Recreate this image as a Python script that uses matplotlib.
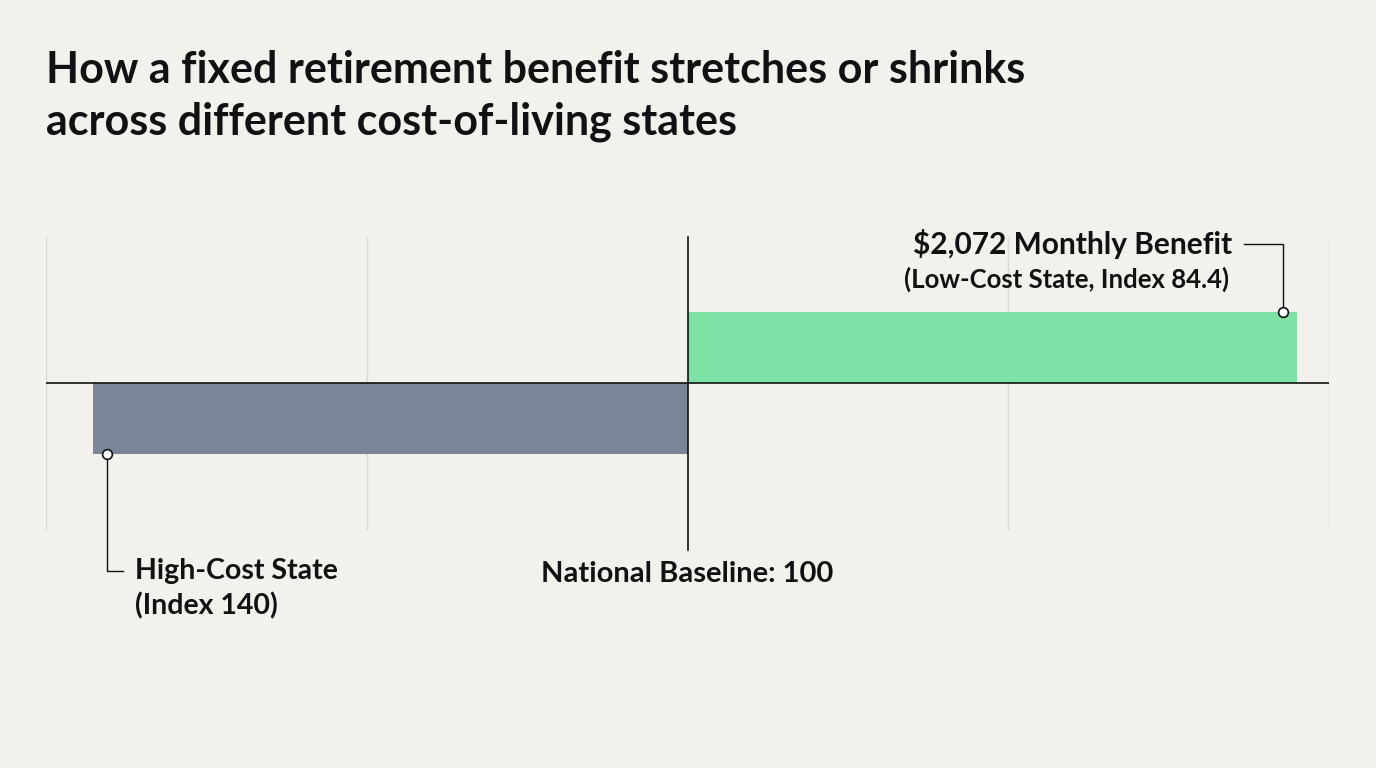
import matplotlib.pyplot as plt
import numpy as np

# data
states = ["High-Cost State", "Low-Cost State"]
cost_index = [140, 84.4]
shift_pct = [-27.8, 28.5]          # relative purchasing power vs. baseline
benefit_label = "$2,072 Monthly Benefit"
baseline = 100
xticks = [-30, -15, 0, 15, 30]

BG = "#f2f1ec"
GREEN = "#7de2a6"
SLATE = "#7a8598"
INK = "#111111"

plt.rcParams['font.family'] = ['Lato', 'DejaVu Sans']

fig = plt.figure(figsize=(13.76, 7.68), dpi=100)
fig.patch.set_facecolor(BG)
W, H = 1376, 768
ax = fig.add_axes([46 / W, (768 - 530) / H, 1283 / W, 293 / H])
ax.set_facecolor(BG)

ax.set_xlim(xticks[0], xticks[-1])
ax.set_ylim(-147 / 71, 146 / 71)
px_x = (xticks[-1] - xticks[0]) / 1283.0   # data units per pixel
px_y = 1 / 71.0

for t in xticks:
    if t != 0:
        ax.axvline(t, color="#d8d8d4", lw=1, zorder=0)

ypos = [-0.5, 0.5]
colors = [SLATE, GREEN]
ax.barh(ypos, shift_pct, height=1.0, color=colors, zorder=2)

ax.axhline(0, color=INK, lw=1.2, zorder=3)
ax.plot([0, 0], [146 / 71, -167 * px_y], color=INK, lw=1.2, zorder=3, clip_on=False)
ax.text(0, -191 * px_y, f"National Baseline: {baseline}", ha="center", va="center",
        fontsize=21, fontweight="bold", color=INK)

for sp in ax.spines.values():
    sp.set_visible(False)
ax.set_xticks([])
ax.set_yticks([])

# low-cost annotation
v = shift_pct[1]
cx = v - 14 * px_x
top = 1 + 68 * px_y
ax.plot([cx, cx, v - 53 * px_x], [1, top, top], color=INK, lw=1, zorder=4, clip_on=False)
ax.plot(cx, 1, "o", ms=7, mfc="white", mec=INK, mew=1.2, zorder=5, clip_on=False)
ax.text(v - 65 * px_x, top, benefit_label, ha="right", va="center",
        fontsize=21.5, fontweight="bold", color=INK)
ax.text(v - 68 * px_x, 1 + 33 * px_y, f"({states[1]}, Index {cost_index[1]})",
        ha="right", va="center", fontsize=18.5, fontweight="bold", color=INK)

# high-cost annotation
v = shift_pct[0]
cx = v + 14 * px_x
bot = -1 - 117 * px_y
ax.plot([cx, cx, v + 30 * px_x], [-1, bot, bot], color=INK, lw=1, zorder=4, clip_on=False)
ax.plot(cx, -1, "o", ms=7, mfc="white", mec=INK, mew=1.2, zorder=5, clip_on=False)
ax.text(v + 42 * px_x, bot, states[0], ha="left", va="center",
        fontsize=20.5, fontweight="bold", color=INK)
ax.text(v + 42 * px_x, -1 - 152 * px_y, f"(Index {cost_index[0]})", ha="left", va="center",
        fontsize=20.5, fontweight="bold", color=INK)

fig.text(46 / W, 1 - 70 / H, "How a fixed retirement benefit stretches or shrinks",
         ha="left", va="center", fontsize=31, fontweight="bold", color=INK)
fig.text(46 / W, 1 - 122 / H, "across different cost-of-living states",
         ha="left", va="center", fontsize=31, fontweight="bold", color=INK)

fig.savefig("out.png", dpi=100, facecolor=BG)
